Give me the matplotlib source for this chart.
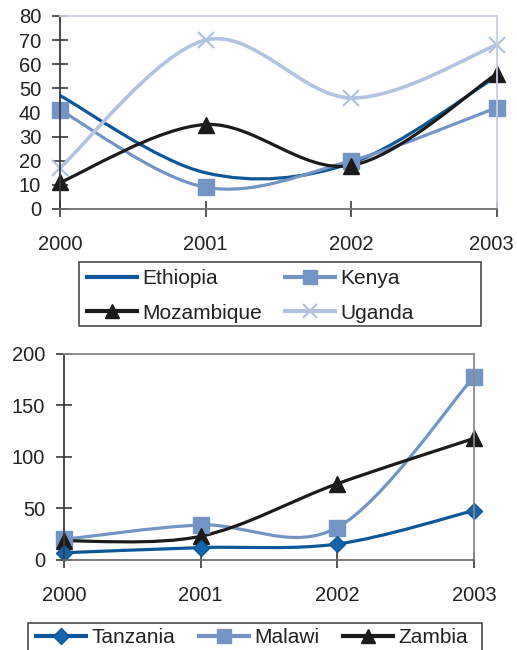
import numpy as np
import matplotlib.pyplot as plt
from matplotlib.path import Path
from matplotlib.patches import PathPatch, Rectangle
from matplotlib.lines import Line2D
from matplotlib.transforms import ScaledTranslation

plt.rcParams['font.family'] = ['Liberation Sans', 'DejaVu Sans']

years = ['2000', '2001', '2002', '2003']

# first panel
ethiopia = [47, 15, 19, 55]
kenya = [41, 9, 20, 42]
mozambique = [11, 35, 18, 56]
uganda = [17, 70, 46, 68]

# second panel
tanzania = [7, 12, 15.5, 48]
malawi = [20, 34, 31.5, 178]
zambia = [18.5, 23, 74, 118]

DARK = '#0b5797'
MID = '#7395c6'
LIGHT = '#b2c3e2'
BLACK = '#1b1b1b'
TXT = '#222222'


def smooth_path(x, y):
    # cubic bezier through every point, tangents from neighbours (1/6 rule)
    p = np.column_stack([x, y]).astype(float)
    q = np.vstack([p[0], p, p[-1]])
    verts = [p[0]]
    codes = [Path.MOVETO]
    for i in range(len(p) - 1):
        c1 = q[i + 1] + (q[i + 2] - q[i]) / 6.0
        c2 = q[i + 2] - (q[i + 3] - q[i + 1]) / 6.0
        verts += [c1, c2, p[i + 1]]
        codes += [Path.CURVE4] * 3
    return Path(verts, codes)


def draw_series(ax, y, color, lw, marker=None, ms=0, mew=1.0, mfc=None, mec=None, z=2):
    x = np.arange(len(y))
    ax.add_patch(PathPatch(smooth_path(x, y), fill=False, edgecolor=color,
                           lw=lw, capstyle='round', joinstyle='round', zorder=z))
    if marker:
        ax.plot(x, y, ls='none', marker=marker, ms=ms, mew=mew,
                mfc=mfc or color, mec=mec or color, zorder=z + 0.5, clip_on=False)


def style_axes(ax, ymax, ystep, edge_light):
    ax.set_xlim(0, 3)
    ax.set_ylim(0, ymax)
    ax.set_xticks(range(4))
    ax.set_xticklabels(years)
    ax.set_yticks(np.arange(0, ymax + 1, ystep))
    ax.spines['left'].set_color('#3a3a3a')
    ax.spines['bottom'].set_color('#6e6e6e')
    ax.spines['top'].set_color(edge_light)
    ax.spines['right'].set_color(edge_light)
    for s in ax.spines.values():
        s.set_linewidth(1.3)
    ax.tick_params(axis='y', direction='inout', length=11, width=1.2, color='#3a3a3a',
                   labelsize=14.5, labelcolor=TXT, pad=8)
    ax.tick_params(axis='x', direction='inout', length=11, width=1.2, color='#3a3a3a',
                   labelsize=14.5, labelcolor=TXT, pad=13)


fig = plt.figure(figsize=(5.17, 6.5), dpi=100)

ax1 = fig.add_axes([0.116, 0.6785, 0.845, 0.297])
style_axes(ax1, 80, 10, '#c9d0dc')
draw_series(ax1, ethiopia, DARK, 2.3)
draw_series(ax1, kenya, MID, 2.3, marker='s', ms=11)
draw_series(ax1, uganda, LIGHT, 2.6, marker='x', ms=12, mew=1.6)
draw_series(ax1, mozambique, BLACK, 2.3, marker='^', ms=11)

# keep the last year label inside the figure edge
last = ax1.get_xticklabels()[-1]
last.set_transform(last.get_transform() + ScaledTranslation(-4 / 72, 0, fig.dpi_scale_trans))

ax2 = fig.add_axes([0.1238, 0.1385, 0.793, 0.317])
style_axes(ax2, 200, 50, '#8a8a8a')
draw_series(ax2, malawi, MID, 2.3, marker='s', ms=11)
draw_series(ax2, zambia, BLACK, 2.3, marker='^', ms=11)
draw_series(ax2, tanzania, DARK, 2.3, marker='D', ms=8, mfc='#1565ad', mec='#0b5797')

leg_kw = dict(frameon=False, fontsize=15, handlelength=2.4, handletextpad=0.25,
              borderpad=0, borderaxespad=0, labelcolor=TXT)

h1 = [Line2D([], [], color=DARK, lw=3),
      Line2D([], [], color=BLACK, lw=3, marker='^', ms=10),
      Line2D([], [], color=MID, lw=3, marker='s', ms=10),
      Line2D([], [], color=LIGHT, lw=3, marker='x', ms=10, mew=1.6)]
fig.legend(h1, ['Ethiopia', 'Mozambique', 'Kenya', 'Uganda'], ncol=2,
           loc='upper left', bbox_to_anchor=(87 / 517, 1 - 269 / 650),
           columnspacing=1.1, labelspacing=0.75, **leg_kw)
fig.add_artist(Rectangle((79 / 517, 1 - 326 / 650), 402 / 517, 64 / 650,
                         transform=fig.transFigure, fill=False, ec='#3a3a3a', lw=1.1))

h2 = [Line2D([], [], color=DARK, lw=3, marker='D', ms=8, mfc='#1565ad'),
      Line2D([], [], color=MID, lw=3, marker='s', ms=10),
      Line2D([], [], color=BLACK, lw=3, marker='^', ms=10)]
fig.legend(h2, ['Tanzania', 'Malawi', 'Zambia'], ncol=3,
           loc='upper left', bbox_to_anchor=(36 / 517, 1 - 628 / 650),
           columnspacing=1.15, **leg_kw)
fig.add_artist(Rectangle((28 / 517, -0.05), 454 / 517, 0.05 + 27 / 650,
                         transform=fig.transFigure, fill=False, ec='#3a3a3a', lw=1.1))

fig.savefig('out.png', dpi=100)
